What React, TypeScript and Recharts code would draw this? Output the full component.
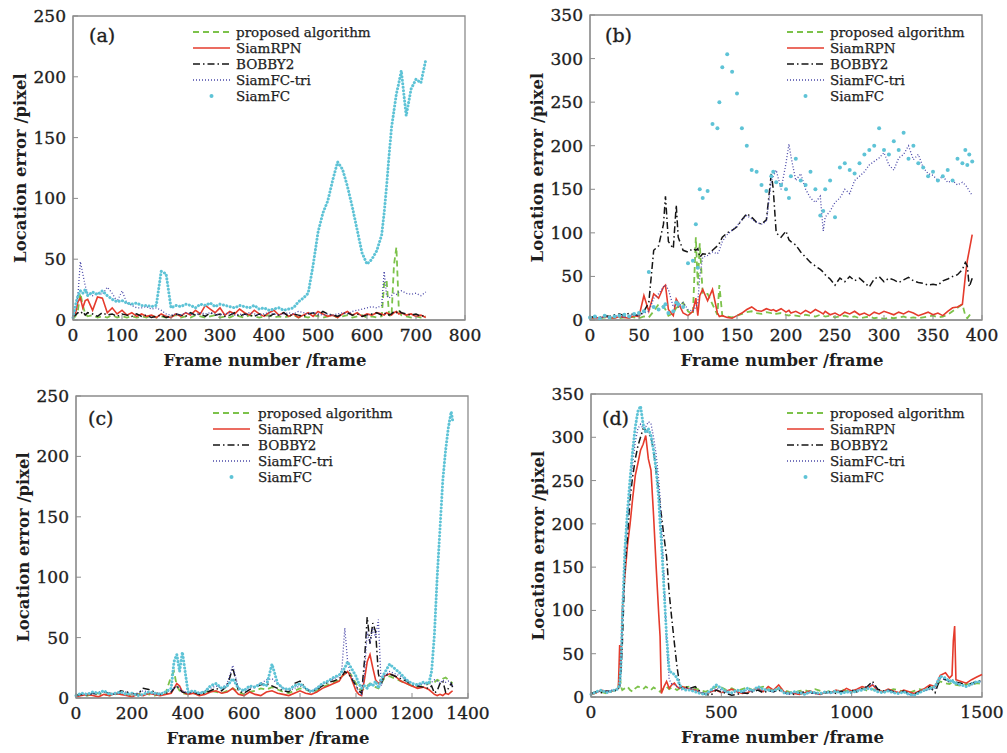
import { LineChart, Line, XAxis, YAxis, ReferenceArea } from 'recharts'

// ---------- panel (a) ----------
const FRAMES_A = [
  0, 5, 10, 15, 20, 25, 30,
  40, 50, 60, 70, 80, 90, 100, 110, 120, 130,
  140, 150, 160, 170, 180, 190, 200, 210, 220, 230,
  240, 250, 260, 270, 280, 290, 300, 310, 320, 330,
  340, 350, 360, 370, 380, 390, 400, 410, 420, 430,
  440, 450, 460, 470, 480, 490, 500, 510, 520, 530,
  540, 550, 560, 570, 580, 590, 600, 610, 620, 630,
  635, 640, 645, 650, 655, 660, 665, 670,
  680, 690, 700, 710, 720,
]
const PROP_A = [
  1, 3, 8, 22, 12, 5, 3,
  4, 2, 3, 2, 4, 2, 3, 2, 3, 2,
  3, 2, 4, 2, 3, 2, 3, 4, 2, 3,
  2, 4, 3, 2, 3, 4, 2, 3, 2, 4,
  3, 2, 4, 3, 2, 3, 4, 2, 3, 2,
  3, 4, 2, 3, 2, 4, 3, 2, 3, 4,
  2, 3, 4, 2, 3, 4, 2, 3, 2, 3,
  30, 33, 4, 3, 45, 60, 8, 4,
  3, 2, 3, 2, 3,
]
const RPN_A = [
  2, 5, 15, 18, 10, 16, 17,
  8, 19, 18, 6, 10, 5, 8, 4, 6, 3,
  5, 3, 4, 2, 5, 3, 2, 5, 3, 6,
  4, 8, 5, 12, 9, 6, 10, 4, 7, 5,
  9, 6, 4, 8, 5, 3, 6, 8, 4, 6,
  3, 5, 2, 4, 6, 3, 7, 5, 3, 4,
  2, 5, 7, 4, 6, 3, 5, 4, 6, 5,
  4, 6, 5, 4, 6, 7, 5, 6,
  4, 5, 3, 4, 2,
]
const BOB_A = [
  3, 4, 6, 5, 7, 4, 6,
  5, 3, 6, 4, 5, 3, 5, 4, 3, 5,
  3, 4, 2, 3, 4, 2, 3, 5, 4, 3,
  6, 4, 5, 3, 6, 4, 5, 3, 4, 6,
  3, 5, 4, 3, 5, 4, 3, 5, 4, 6,
  3, 5, 4, 3, 5, 6, 4, 7, 5, 4,
  3, 5, 6, 4, 5, 3, 4, 5, 6, 4,
  5, 6, 4, 5, 7, 6, 8, 6,
  5, 4, 5, 3, 4,
]
const TRI_A = [
  3, 8, 20, 48, 38, 28, 22,
  20, 22, 21, 27, 22, 15, 24, 14, 12, 10,
  10, 11, 9, 10, 8, 5, 4, 5, 4, 6,
  5, 4, 6, 5, 6, 5, 4, 5, 6, 4,
  5, 4, 6, 5, 4, 5, 6, 5, 4, 5,
  6, 5, 7, 6, 5, 6, 5, 4, 5, 4,
  5, 6, 5, 7, 8, 9, 10, 11, 10, 12,
  40, 20, 18, 20, 22, 21, 23, 24,
  22, 21, 22, 20, 23,
]
const FC_A = [
  2, 12, 20, 24, 22, 25, 20,
  23, 21, 24, 20, 17, 15, 16, 14, 13, 14,
  12, 12, 11, 12, 40, 38, 10, 12, 11, 13,
  12, 10, 13, 12, 14, 11, 13, 12, 11, 10,
  12, 11, 10, 12, 9, 10, 8, 9, 10, 8,
  9, 10, 15, 18, 22, 45, 72, 88, 98, 115,
  130, 124, 110, 93, 74, 55, 46, 50, 57, 70,
  88, 110, 135, 158, 172, 186, 195, 205,
  168, 190, 198, 195, 214,
]

// ---------- panel (b) ----------
const FRAMES_B = [
  0, 5, 10, 15, 20, 25, 30, 35, 40, 45, 50, 55, 60, 65, 70, 75,
  77, 80, 85, 88, 90, 95, 100, 105, 108, 110, 112,
  115, 120, 125, 130, 132, 135, 140, 145, 150, 155, 160, 165, 170, 175, 180, 185, 187,
  190, 195, 200, 203, 205, 210, 215, 220, 225, 230, 235, 238,
  240, 245, 250, 255, 260, 265, 270, 275, 280, 285, 290, 295, 300, 305, 310,
  315, 320, 325, 330, 335, 340, 345, 350, 355, 360, 365, 370, 375, 380,
  383, 385, 387, 390,
]
const PROP_B = [
  2, 3, 2, 3, 2, 3, 2, 3, 4, 3, 2, 4, 3, 10, 18, 15,
  12, 5, 8, 14, 15, 20, 10, 6, 95, 40, 88,
  30, 30, 18, 6, 40, 5, 4, 3, 5, 7, 9, 10, 8, 7, 9, 8, 9,
  7, 8, 6, 5, 6, 5, 4, 6, 5, 4, 6, 5,
  4, 5, 3, 4, 5, 3, 4, 2, 3, 4, 2, 3, 1, 3, 2,
  3, 4, 2, 3, 2, 3, 4, 5, 3, 4, 6, 10, 14, 18,
  5, 2, 5, 10,
]
const RPN_B = [
  2, 3, 2, 4, 3, 2, 4, 3, 2, 5, 4, 28, 10, 30, 25, 38,
  40, 12, 5, 24, 20, 8, 5, 10, 25, 5, 28,
  35, 22, 35, 8, 4, 5, 3, 2, 5, 8, 12, 15, 11, 10, 13, 11, 12,
  10, 13, 9, 11, 8, 10, 7, 11, 8, 12, 9, 7,
  10, 6, 8, 5, 9, 7, 10, 6, 8, 5, 9, 7, 10, 8, 6,
  9, 7, 10, 8, 5, 7, 9, 6, 8, 5, 10, 14, 15, 18,
  50, 68, 80, 98,
]
const BOB_B = [
  3, 4, 3, 5, 4, 6, 7, 5, 8, 6, 5, 10, 20, 80, 85, 110,
  142, 90, 82, 132, 95, 80, 78, 82, 80, 82, 72,
  76, 75, 80, 85, 88, 95, 100, 103, 107, 115, 122, 118, 112, 110, 115, 168, 150,
  100, 95, 102, 92, 90, 86, 78, 72, 66, 62, 58, 55,
  52, 47, 40, 48, 44, 50, 45, 48, 43, 38, 47, 50, 44, 48, 46,
  43, 46, 49, 45, 43, 42, 40, 41, 40, 45, 47, 50, 52, 58,
  66, 62, 38, 48,
]
const TRI_B = [
  2, 3, 2, 4, 3, 5, 4, 3, 5, 6, 5, 8, 10, 25, 30, 38,
  40, 35, 15, 18, 15, 20, 12, 10, 15, 20, 50,
  72, 74, 78, 76, 80, 90, 98, 103, 108, 115, 120, 116, 112, 110, 113, 160, 165,
  172, 150, 180, 202, 188, 160, 168, 150, 140, 135, 142, 102,
  118, 125, 135, 140, 150, 145, 160, 165, 170, 178, 182, 186, 192, 178, 172,
  186, 190, 200, 184, 190, 175, 168, 166, 160, 165, 158, 160, 155, 158,
  155, 152, 148, 143,
]
const FC_B = [
  3, 4, 2, 5, 3, 4, 5, 6, 4, 7, 8, 10, 55, 15, 12, 15,
  18, 8, 10, 20, 18, 15, 65, 68, 110, 60, 150,
  140, 148, 225, 220, 250, 290, 305, 285, 260, 220, 200, 172, 170, 155, 148, 165, 170,
  158, 155, 150, 140, 165, 185, 160, 155, 170, 150, 120, 125,
  150, 160, 118, 175, 180, 172, 168, 180, 190, 195, 200, 220, 195, 190, 205,
  195, 215, 185, 200, 180, 175, 165, 170, 160, 165, 172, 160, 185, 180,
  195, 178, 190, 182,
]

// ---------- panel (c) ----------
const FRAMES_C = [
  0, 20, 40, 60, 80, 100, 120, 140, 160, 180, 200, 220, 240, 260, 280, 300, 320,
  340, 350, 360, 370, 380,
  400, 420, 440, 460, 480, 500, 520, 540, 560, 580, 600, 620, 640, 660,
  680, 700, 720, 740, 760, 780, 800, 820, 840, 860, 880, 900, 920,
  940, 950, 960, 970, 980, 990, 1000, 1010, 1020, 1030, 1040, 1050, 1060, 1070, 1080, 1090, 1100,
  1120, 1140, 1160, 1180, 1200, 1220, 1240,
  1260, 1270, 1280, 1290, 1300, 1310, 1320, 1330, 1340, 1345,
]
const PROP_C = [
  2, 3, 2, 3, 4, 3, 2, 3, 4, 3, 2, 3, 4, 3, 2, 3, 4,
  18, 22, 10, 6, 4,
  3, 4, 3, 5, 6, 5, 4, 6, 8, 5, 3, 5, 6, 8,
  7, 9, 7, 5, 4, 6, 8, 7, 5, 6, 9, 11, 13,
  15, 18, 20, 22, 20, 16, 12, 8, 6, 8, 10, 12, 10, 9, 8, 12, 16,
  18, 16, 14, 12, 10, 9, 10,
  12, 14, 13, 15, 14, 16, 17, 15, 13, 12,
]
const RPN_C = [
  1, 2, 3, 2, 1, 3, 2, 4, 3, 2, 1, 3, 2, 4, 3, 2, 3,
  4, 8, 12, 10, 5,
  3, 4, 2, 3, 5, 6, 4, 5, 8, 3, 2, 5, 3, 2,
  5, 6, 4, 3, 2, 4, 6, 4, 3, 5, 8, 10, 12,
  14, 18, 20, 22, 18, 12, 6, 3, 2, 15, 30, 36, 25, 15, 12, 14, 18,
  20, 18, 14, 12, 10, 8, 9,
  7, 5, 3, 2, 3, 2, 4, 3, 5, 6,
]
const BOB_C = [
  2, 3, 2, 4, 3, 5, 4, 3, 6, 5, 4, 3, 8, 7, 5, 3, 4,
  5, 8, 10, 7, 5,
  4, 5, 3, 4, 6, 8, 6, 10, 25, 6, 4, 7, 9, 11,
  12, 10, 8, 6, 5, 12, 14, 8, 5, 7, 10, 13, 14,
  16, 18, 22, 20, 18, 14, 10, 6, 4, 30, 67, 45, 62, 55, 20, 12, 18,
  20, 18, 16, 14, 11, 10, 9,
  8, 10, 4, 6, 12, 14, 5, 8, 12, 9,
]
const TRI_C = [
  2, 3, 4, 3, 5, 6, 4, 3, 4, 5, 3, 4, 6, 5, 3, 4, 5,
  6, 8, 10, 8, 6,
  4, 5, 4, 6, 8, 10, 8, 12, 27, 8, 6, 8, 10, 12,
  15, 16, 12, 8, 6, 8, 10, 8, 6, 8, 12, 14, 16,
  18, 25, 58, 30, 20, 15, 10, 5, 3, 20, 55, 45, 58, 50, 65, 10, 18,
  22, 20, 18, 15, 12, 10, 12,
  11, 13, 15, 14, 12, 15, 13, 14, 12, 10,
]
const FC_C = [
  2, 4, 3, 5, 4, 6, 3, 4, 5, 3, 4, 2, 3, 5, 4, 3, 5,
  8, 30, 36, 22, 38,
  5, 6, 4, 5, 10, 12, 8, 10, 16, 8, 6, 10, 9, 12,
  10, 28, 12, 8, 7, 10, 12, 8, 5, 8, 12, 14, 17,
  19, 22, 25, 30, 26, 22, 18, 12, 8, 10, 8, 12, 10, 14, 8, 15, 20,
  28, 24, 20, 15, 12, 11, 13,
  12, 22, 52, 100, 140, 180, 205, 224, 237, 230,
]

// ---------- panel (d) ----------
const FRAMES_D = [
  0, 20, 40, 60, 80, 100, 105,
  110, 115, 120, 130, 140, 150, 160, 170, 180, 190, 200, 210, 220,
  230, 240, 250, 260, 265, 270, 280, 290, 300, 310, 320, 330, 340, 350, 360,
  380, 400, 420, 440, 460, 480, 500, 520, 540, 560, 580, 600, 620, 640, 660, 680, 700, 720,
  740, 760, 780, 800, 820, 840, 860, 880, 900, 920, 940, 960, 980, 1000, 1020, 1040, 1060,
  1080, 1100, 1120, 1140, 1160, 1180, 1200, 1220, 1240, 1260, 1280, 1300, 1320, 1340, 1360,
  1375, 1385, 1390, 1395, 1400, 1420, 1440, 1460, 1480, 1500,
]
const PROP_D = [
  3, 5, 6, 4, 7, 8, 10,
  28, 12, 8, 10, 12, 8, 6, 10, 12, 11, 9, 12, 10,
  8, 11, 9, 7, 6, 8, 10, 12, 9, 11, 10, 8, 10, 9, 11,
  12, 10, 8, 6, 9, 12, 11, 8, 10, 7, 9, 11, 8, 10, 12, 9, 7, 10,
  8, 6, 5, 7, 8, 6, 9, 7, 5, 8, 6, 9, 7, 6, 8, 10, 7,
  9, 8, 6, 7, 9, 8, 6, 5, 7, 9, 8, 10, 12, 18, 16,
  15, 17, 16, 15, 14, 13, 15, 14, 16, 15,
]
const RPN_D = [
  3, 5, 8, 6, 7, 9, 10,
  60, 30, 100, 140, 175, 200, 230, 256, 270, 285, 292, 302, 275,
  262, 210, 150, 95, 70, 4, 12, 18, 10, 14, 16, 12, 10, 12, 11,
  9, 8, 5, 3, 6, 8, 5, 7, 9, 6, 4, 5, 8, 10, 6, 12, 8, 14,
  6, 5, 4, 3, 5, 7, 4, 3, 6, 5, 8, 6, 10, 7, 9, 12, 10,
  14, 8, 6, 9, 7, 5, 8, 6, 4, 7, 10, 14, 12, 25, 28,
  22, 25, 65, 82, 20, 18, 16, 20, 23, 26,
]
const BOB_D = [
  4, 6, 5, 7, 6, 8, 10,
  12, 30, 60, 150, 185, 230, 255, 275, 290, 300, 310, 308, 305,
  300, 285, 260, 238, 222, 210, 185, 162, 120, 90, 62, 35, 14, 10, 12,
  10, 12, 6, 3, 2, 8, 6, 4, 2, 3, 5, 4, 6, 8, 5, 7, 6, 8,
  5, 4, 3, 5, 6, 4, 5, 3, 5, 6, 4, 7, 5, 8, 6, 10, 12,
  18, 9, 7, 8, 6, 5, 7, 4, 3, 6, 8, 12, 5, 22, 20,
  18, 20, 19, 18, 17, 16, 13, 16, 18, 19,
]
const TRI_D = [
  3, 5, 7, 6, 8, 9, 10,
  12, 40, 80, 160, 205, 240, 270, 295, 310, 315, 310, 312, 318,
  316, 300, 280, 250, 230, 200, 140, 60, 20, 15, 14, 12, 10, 8, 10,
  10, 8, 5, 4, 6, 10, 8, 5, 4, 6, 5, 8, 6, 10, 7, 8, 6, 9,
  4, 3, 5, 4, 3, 5, 4, 3, 5, 4, 6, 5, 7, 6, 8, 9, 11,
  15, 7, 6, 8, 5, 4, 6, 3, 2, 5, 7, 9, 10, 22, 20,
  17, 19, 17, 18, 15, 14, 12, 14, 17, 18,
]
const FC_D = [
  3, 6, 8, 5, 7, 9, 10,
  14, 35, 90, 170, 215, 252, 285, 312, 330, 336, 315, 305, 310,
  302, 285, 262, 228, 200, 180, 125, 70, 30, 28, 26, 22, 14, 10, 8,
  8, 6, 4, 3, 8, 14, 10, 6, 5, 8, 6, 10, 7, 12, 9, 8, 7, 10,
  5, 4, 6, 5, 3, 6, 5, 4, 6, 5, 7, 4, 6, 5, 7, 8, 10,
  9, 6, 5, 7, 5, 4, 6, 3, 2, 5, 8, 10, 12, 24, 22,
  18, 20, 16, 18, 16, 14, 12, 15, 18, 17,
]

const FONT = "'DejaVu Serif', 'Liberation Serif', serif"
const AXIS = '#8c8c8c'
const TEXT = '#1e1e1e'

const SERIES = [
  { key: 'prop', name: 'proposed algorithm', color: '#7cc24a', dash: '6 4', width: 1.8 },
  { key: 'rpn', name: 'SiamRPN', color: '#e53b2c', dash: undefined, width: 1.6 },
  { key: 'bob', name: 'BOBBY2', color: '#151515', dash: '7 3 1.5 3', width: 1.5 },
  { key: 'tri', name: 'SiamFC-tri', color: '#4a48a8', dash: '1 2', width: 1.3 },
  { key: 'fc', name: 'SiamFC', color: '#5ec3d6', dash: undefined, width: 3 },
]

const buildRows = (frames: number[], cols: number[][]) =>
  frames.map((f, i) => ({
    f,
    prop: cols[0][i],
    rpn: cols[1][i],
    bob: cols[2][i],
    tri: cols[3][i],
    fc: cols[4][i],
  }))

const PANELS = [
  {
    tag: '(a)', left: 0, top: 0, w: 500, h: 375, pl: 73, pt: 16, pr: 465, pb: 320,
    rows: buildRows(FRAMES_A, [PROP_A, RPN_A, BOB_A, TRI_A, FC_A]),
    xMax: 800, xTicks: [0, 100, 200, 300, 400, 500, 600, 700, 800],
    yMax: 250, yTicks: [0, 50, 100, 150, 200, 250],
    lg: { lx: 120, tx: 163, ty: 16 }, tagPos: [16, 19], fcDots: false,
  },
  {
    tag: '(b)', left: 517, top: 0, w: 490, h: 375, pl: 73, pt: 15, pr: 465, pb: 320,
    rows: buildRows(FRAMES_B, [PROP_B, RPN_B, BOB_B, TRI_B, FC_B]),
    xMax: 400, xTicks: [0, 50, 100, 150, 200, 250, 300, 350, 400],
    yMax: 350, yTicks: [0, 50, 100, 150, 200, 250, 300, 350],
    lg: { lx: 197, tx: 240, ty: 17 }, tagPos: [15, 20], fcDots: true,
  },
  {
    tag: '(c)', left: 3, top: 380, w: 497, h: 373, pl: 73, pt: 16, pr: 465, pb: 318,
    rows: buildRows(FRAMES_C, [PROP_C, RPN_C, BOB_C, TRI_C, FC_C]),
    xMax: 1400, xTicks: [0, 200, 400, 600, 800, 1000, 1200, 1400],
    yMax: 250, yTicks: [0, 50, 100, 150, 200, 250],
    lg: { lx: 137, tx: 182, ty: 17 }, tagPos: [12, 22], fcDots: false,
  },
  {
    tag: '(d)', left: 518, top: 378, w: 489, h: 375, pl: 73, pt: 16, pr: 464, pb: 319,
    rows: buildRows(FRAMES_D, [PROP_D, RPN_D, BOB_D, TRI_D, FC_D]),
    xMax: 1500, xTicks: [0, 500, 1000, 1500],
    yMax: 350, yTicks: [0, 50, 100, 150, 200, 250, 300, 350],
    lg: { lx: 196, tx: 239, ty: 19 }, tagPos: [11, 24], fcDots: false,
  },
]

// text is drawn with a thin outline so the serif reads a bit heavier, like the scan
const heavy = { stroke: TEXT, strokeWidth: 0.35 }

const YTick = (props: any) => {
  const { x, y, payload } = props
  return (
    <g>
      <line x1={x} x2={x + 5} y1={y} y2={y} stroke={AXIS} />
      <text x={x - 7} y={y} textAnchor="end" dominantBaseline="central" fontFamily={FONT} fontSize={17} fill={TEXT} {...heavy}>
        {payload.value}
      </text>
    </g>
  )
}

const XTick = (props: any) => {
  const { x, y, payload } = props
  return (
    <g>
      <line x1={x} x2={x} y1={y} y2={y - 5} stroke={AXIS} />
      <text x={x} y={y + 15} textAnchor="middle" dominantBaseline="central" fontFamily={FONT} fontSize={17} fill={TEXT} {...heavy}>
        {payload.value}
      </text>
    </g>
  )
}

function Panel({ p }: { p: (typeof PANELS)[number] }) {
  const YW = 60
  const XH = 40
  const plotW = p.pr - p.pl
  const plotH = p.pb - p.pt
  return (
    <div style={{ position: 'absolute', left: p.left, top: p.top, width: p.w, height: p.h }}>
      <LineChart
        width={p.w}
        height={p.h}
        data={p.rows}
        margin={{ top: p.pt, left: p.pl - YW, right: p.w - p.pr, bottom: p.h - p.pb - XH }}
      >
        <XAxis
          dataKey="f"
          type="number"
          domain={[0, p.xMax]}
          ticks={p.xTicks}
          height={XH}
          tickSize={0}
          tickMargin={0}
          tick={<XTick />}
          axisLine={{ stroke: AXIS }}
          interval={0}
        />
        <YAxis
          type="number"
          domain={[0, p.yMax]}
          ticks={p.yTicks}
          width={YW}
          tickSize={0}
          tickMargin={0}
          tick={<YTick />}
          axisLine={{ stroke: AXIS }}
          interval={0}
        />
        <ReferenceArea x1={0} x2={p.xMax} y1={0} y2={p.yMax} fill="none" stroke={AXIS} strokeWidth={1.3} />
        {SERIES.map((s) => {
          if (s.key === 'fc') {
            return p.fcDots ? (
              <Line
                key={s.key}
                dataKey={s.key}
                type="linear"
                stroke="none"
                dot={{ r: 2, fill: s.color, stroke: 'none' }}
                isAnimationActive={false}
              />
            ) : (
              <Line
                key={s.key}
                dataKey={s.key}
                type="linear"
                stroke={s.color}
                strokeWidth={3}
                strokeDasharray="0.1 3.4"
                strokeLinecap="round"
                dot={false}
                isAnimationActive={false}
              />
            )
          }
          return (
            <Line
              key={s.key}
              dataKey={s.key}
              type="linear"
              stroke={s.color}
              strokeWidth={s.width}
              strokeDasharray={s.dash}
              dot={false}
              isAnimationActive={false}
            />
          )
        })}
      </LineChart>
      <svg
        width={p.w}
        height={p.h}
        style={{ position: 'absolute', left: 0, top: 0, pointerEvents: 'none' }}
      >
        <text
          x={p.pl + p.tagPos[0]}
          y={p.pt + p.tagPos[1]}
          dominantBaseline="central"
          fontFamily={FONT}
          fontSize={19}
          fill={TEXT}
          {...heavy}
        >
          {p.tag}
        </text>
        {SERIES.map((s, i) => {
          const y = p.pt + p.lg.ty + i * 16
          const x1 = p.pl + p.lg.lx
          const x2 = x1 + 37
          return (
            <g key={s.key}>
              {s.key === 'fc' ? (
                <circle cx={(x1 + x2) / 2} cy={y} r={2} fill={s.color} />
              ) : (
                <line x1={x1} x2={x2} y1={y} y2={y} stroke={s.color} strokeWidth={s.width} strokeDasharray={s.dash} />
              )}
              <text
                x={p.pl + p.lg.tx}
                y={y}
                dominantBaseline="central"
                fontFamily={FONT}
                fontSize={13.5}
                fill={TEXT}
                stroke={TEXT}
                strokeWidth={0.25}
              >
                {s.name}
              </text>
            </g>
          )
        })}
        <text
          transform={`translate(${p.pl - 53}, ${p.pt + plotH / 2}) rotate(-90)`}
          textAnchor="middle"
          dominantBaseline="central"
          fontFamily={FONT}
          fontSize={16.5}
          fontWeight="bold"
          fill={TEXT}
        >
          Location error /pixel
        </text>
        <text
          x={p.pl + plotW / 2 - 4}
          y={p.pb + 40}
          textAnchor="middle"
          dominantBaseline="central"
          fontFamily={FONT}
          fontSize={16.5}
          fontWeight="bold"
          fill={TEXT}
        >
          Frame number /frame
        </text>
      </svg>
    </div>
  )
}

export default function App() {
  return (
    <div style={{ position: 'absolute', left: 0, top: 0, width: 1007, height: 753, background: '#fff' }}>
      {PANELS.map((p) => (
        <Panel key={p.tag} p={p} />
      ))}
    </div>
  )
}
